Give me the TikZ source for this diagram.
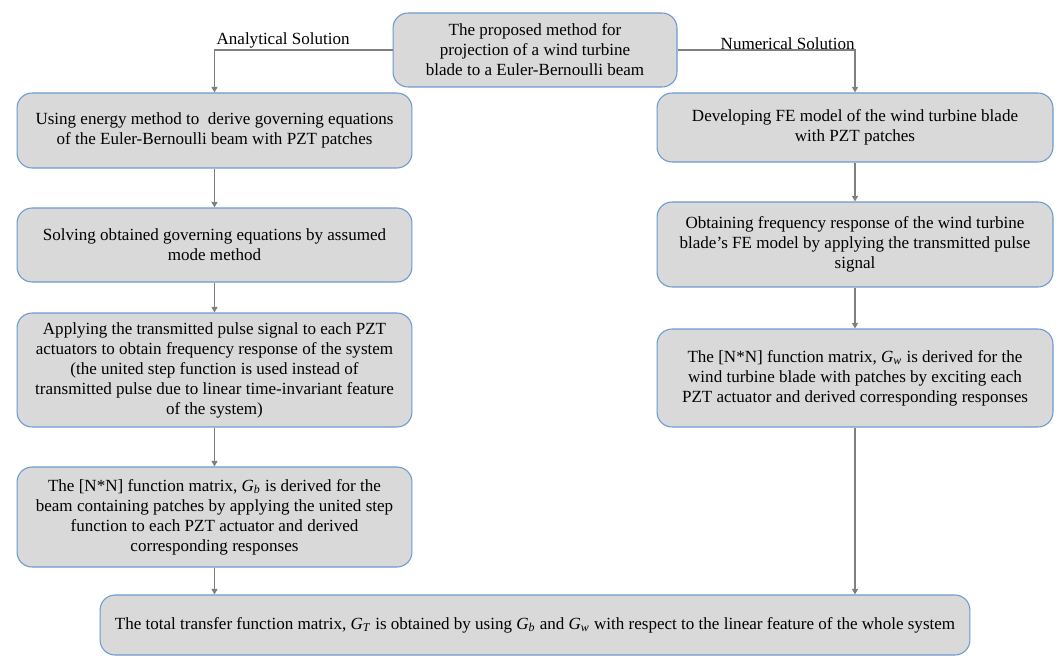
\documentclass[tikz,border=0pt]{standalone}
\usepackage{fontspec}
\setmainfont{Liberation Serif}
\usetikzlibrary{arrows.meta,calc}
\definecolor{boxfill}{HTML}{D9D9D9}
\definecolor{boxline}{HTML}{6C9AD0}
\definecolor{arrgray}{HTML}{7F7F7F}
\newcommand{\Gm}[1]{\textit{G}\textsubscript{\textit{#1}}}
\begin{document}
\begin{tikzpicture}[x=0.02cm,y=-0.02cm,
box/.style={draw=boxline,fill=boxfill,line width=.6pt,rounded corners=.3cm,align=center,inner sep=0pt,font=\fontsize{9.7}{11.4}\selectfont},
conn/.style={draw=arrgray,line width=.8pt,-{Triangle[length=3.2pt,width=3.4pt]}},
lbl/.style={font=\fontsize{9.7}{12}\selectfont}]
\useasboundingbox(0,0)rectangle(1057,656);
\node[box,minimum width=5.68cm,minimum height=1.48cm](top)at(535,50){The proposed method for\\projection of a wind turbine\\blade to a Euler-Bernoulli beam};
% analytical branch
\node[box,minimum width=7.9cm,minimum height=1.5cm](L1)at(214.5,130.5){Using energy method to~ derive governing equations\\of the Euler-Bernoulli beam with PZT patches};
\node[box,minimum width=7.9cm,minimum height=1.48cm](L2)at(214.5,245){Solving obtained governing equations by assumed\\mode method};
\node[box,minimum width=7.9cm,minimum height=2.28cm](L3)at(214.5,370){Applying the transmitted pulse signal to each PZT\\actuators to obtain frequency response of the system\\(the united step function is used instead of\\transmitted pulse due to linear time-invariant feature\\of the system)};
\node[box,minimum width=7.9cm,minimum height=2cm](L4)at(214.5,517){The [N*N] function matrix, \Gm{b} is derived for the\\beam containing patches by applying the united step\\function to each PZT actuator and derived\\corresponding responses};
% numerical branch
\node[box,minimum width=7.92cm,minimum height=1.38cm](R1)at(855,127.5){Developing FE model of the wind turbine blade\\with PZT patches};
\node[box,minimum width=7.92cm,minimum height=1.7cm](R2)at(855,244.5){Obtaining frequency response of the wind turbine\\blade’s FE model by applying the transmitted pulse\\signal};
\node[box,minimum width=7.92cm,minimum height=1.96cm](R3)at(855,378){The [N*N] function matrix, \Gm{w} is derived for the\\wind turbine blade with patches by exciting each\\PZT actuator and derived corresponding responses};
\node[box,minimum width=17.4cm,minimum height=1.2cm](bot)at(535,625){The total transfer function matrix, \Gm{T} is obtained by using \Gm{b} and \Gm{w} with respect to the linear feature of the whole system};
\coordinate(cl)at(top.west-|L1.north);\coordinate(cr)at(top.east-|R1.north);
\node[lbl,anchor=south west,inner sep=1pt]at(cl){Analytical Solution};
\node[lbl,anchor=south east,inner sep=0pt]at(cr){Numerical Solution};
\draw[conn](top.west)--(cl)--(L1.north);\draw[conn](top.east)--(cr)--(R1.north);
\draw[conn](L1)--(L2);\draw[conn](L2)--(L3);\draw[conn](L3)--(L4);\draw[conn](L4.south)--(L4.south|-bot.north);
\draw[conn](R1)--(R2);\draw[conn](R2)--(R3);\draw[conn](R3.south)--(R3.south|-bot.north);
\end{tikzpicture}
\end{document}
